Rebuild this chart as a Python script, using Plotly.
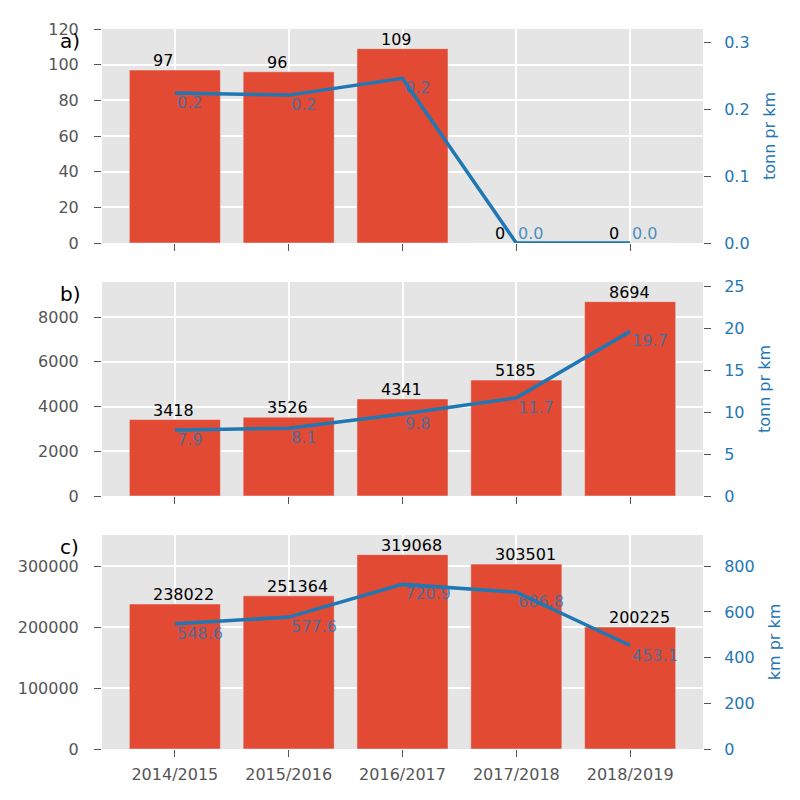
import plotly.graph_objects as go

categories = ["2014/2015", "2015/2016", "2016/2017", "2017/2018", "2018/2019"]

a_bars = [97, 96, 109, 0, 0]
a_line = [0.224, 0.221, 0.246, 0.0, 0.0]

b_bars = [3418, 3526, 4341, 5185, 8694]
b_line = [7.88, 8.10, 9.81, 11.73, 19.67]

c_bars = [238022, 251364, 319068, 303501, 200225]
c_line = [548.6, 577.6, 720.9, 686.8, 453.1]

panel_labels = ["a)", "b)", "c)"]
right_titles = ["tonn pr km", "tonn pr km", "km pr km"]

BAR = "#E24A33"
LINE = "#1f77b4"
TXT = "#555555"
FONT = "DejaVu Sans"
FS = 16

W = H = 800
OFF = 8  # page body margin of the browser
x_dom = [(102 - OFF) / W, (703 - OFF) / W]
# (top, bottom) pixel positions of each panel in the screenshot
panel_px = [(29, 243), (282, 496), (535, 749)]

xs = list(range(len(categories)))
panels = [(a_bars, a_line), (b_bars, b_line), (c_bars, c_line)]

fig = go.Figure()
annotations = []
layout = {}

for p, (bars, line) in enumerate(panels):
    xa = "x" if p == 0 else f"x{p + 1}"
    ya_l = "y" if p == 0 else f"y{2 * p + 1}"
    ya_r = f"y{2 * p + 2}"
    top, bot = panel_px[p]
    y_dom = [1 - (bot - OFF) / H, 1 - (top - OFF) / H]

    fig.add_trace(go.Bar(x=xs, y=bars, marker_color=BAR, width=0.8,
                         xaxis=xa, yaxis=ya_l, showlegend=False))
    fig.add_trace(go.Scatter(x=xs, y=line, mode="lines",
                             line=dict(color=LINE, width=3.5),
                             xaxis=xa, yaxis=ya_r, showlegend=False))

    xkey = "xaxis" if p == 0 else f"xaxis{p + 1}"
    ylkey = "yaxis" if p == 0 else f"yaxis{2 * p + 1}"
    yrkey = f"yaxis{2 * p + 2}"

    layout[xkey] = dict(
        domain=x_dom, anchor=ya_l, range=[-0.64, len(xs) - 1 + 0.64],
        tickmode="array", tickvals=xs, ticktext=categories,
        showticklabels=(p == 2), ticks="outside", ticklen=7, tickwidth=1.3,
        tickcolor=TXT, showgrid=True, gridcolor="white", gridwidth=1.6,
        zeroline=False, showline=False, automargin=False,
        tickfont=dict(family=FONT, size=FS, color=TXT),
        ticklabelstandoff=4,
    )
    layout[ylkey] = dict(
        domain=y_dom, anchor=xa, range=[0, max(bars) * 1.101],
        ticks="outside", ticklen=7, tickwidth=1.3, tickcolor=TXT,
        showgrid=True, gridcolor="white", gridwidth=1.6,
        zeroline=False, showline=False, automargin=False, tickformat="d",
        tickfont=dict(family=FONT, size=FS, color=TXT),
        ticklabelstandoff=12,
    )
    rtop = max(line) * 1.3
    layout[yrkey] = dict(
        overlaying=ya_l, side="right", anchor=xa, range=[0, rtop],
        ticks="outside", ticklen=7, tickwidth=1.3, tickcolor=TXT,
        showgrid=False, zeroline=False, showline=False, automargin=False,
        tickformat=".1f" if rtop < 1 else "d",
        tickfont=dict(family=FONT, size=FS, color=LINE),
        ticklabelstandoff=10,
        title=dict(text=right_titles[p], font=dict(family=FONT, size=FS, color=LINE),
                   standoff=15),
    )

    # bar value labels
    for i, v in enumerate(bars):
        annotations.append(dict(
            x=i - 0.19, y=v, xref=xa, yref=ya_l, text=str(v), showarrow=False,
            xanchor="left", yanchor="bottom", xshift=-2, yshift=-2,
            font=dict(family=FONT, size=FS, color="black")))
    # line value labels
    for i, v in enumerate(line):
        annotations.append(dict(
            x=i, y=v, xref=xa, yref=ya_r, text=f"{v:.1f}", showarrow=False,
            xanchor="left", yanchor="bottom" if v == 0 else "top",
            xshift=0, yshift=-2 if v == 0 else 2,
            font=dict(family=FONT, size=FS, color="rgba(31,119,180,0.8)")))
    # panel label
    annotations.append(dict(
        x=(58 - OFF) / W, y=1 - (top + 12 - OFF) / H, xref="paper", yref="paper",
        text=panel_labels[p], showarrow=False, xanchor="left", yanchor="middle",
        font=dict(family=FONT, size=20, color="black")))

fig.update_layout(
    width=W, height=H, margin=dict(l=0, r=0, t=0, b=0),
    paper_bgcolor="white", plot_bgcolor="#E5E5E5",
    bargap=0.2, annotations=annotations, **layout,
)

fig.write_html("out.html")
